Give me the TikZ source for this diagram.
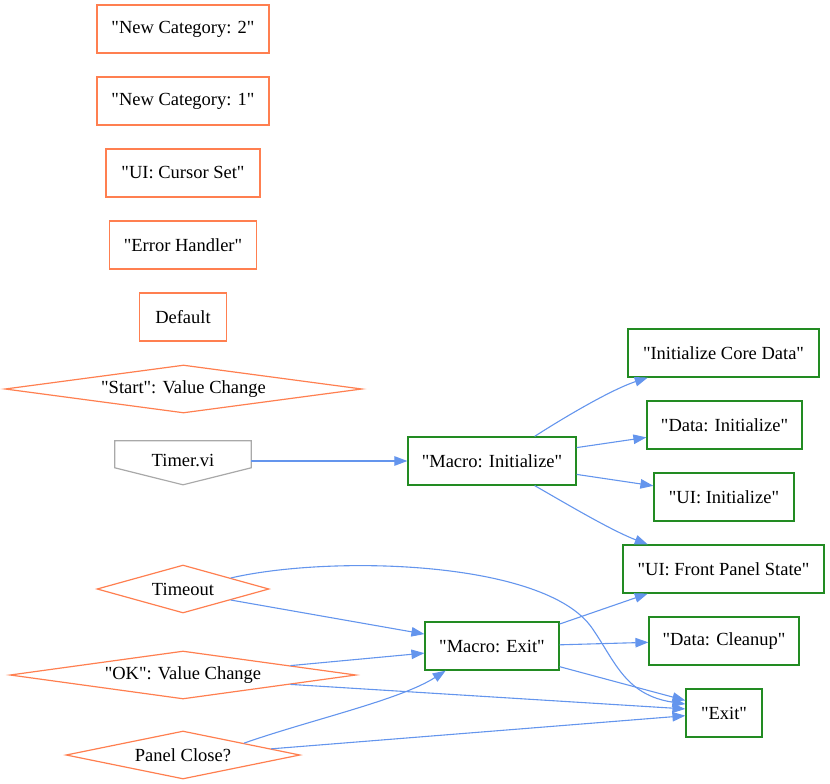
\documentclass[tikz,border=0pt]{standalone}
\usepackage{fontspec}
\newfontfamily\tnr{Liberation Serif}
\usetikzlibrary{arrows.meta,shapes.geometric,calc}
\definecolor{coral}{HTML}{FF7F50}
\definecolor{fgreen}{HTML}{228B22}
\definecolor{cblue}{HTML}{6495ED}
\definecolor{dgray}{HTML}{A9A9A9}
\begin{document}
\begin{tikzpicture}[x=1pt,y=-1pt,
  every node/.style={font=\tnr\fontsize{18.5}{22}\selectfont, inner sep=0pt},
  obox/.style={draw=coral, line width=1.2pt, rectangle, minimum height=48pt},
  gbox/.style={draw=fgreen, line width=1.2pt, rectangle, minimum height=48pt},
  odia/.style={draw=coral, line width=1.2pt, diamond, minimum height=48pt},
  edge/.style={draw=cblue, line width=1.1pt, -{Triangle[length=13pt,width=9.5pt]}}]
\useasboundingbox (0,0) rectangle (830,784);
% left column
\node[obox, minimum width=172pt] (nc2) at (183,29) {"New Category: 2"};
\node[obox, minimum width=172pt] (nc1) at (183,101) {"New Category: 1"};
\node[obox, minimum width=154pt] (cur) at (183,173) {"UI: Cursor Set"};
\node[obox, minimum width=147pt] (err) at (183,245) {"Error Handler"};
\node[obox, minimum width=87pt] (def) at (183,317) {Default};
\node[odia, minimum width=357pt, aspect=7.44] (start) at (183.5,389) {"Start": Value Change};
\node[minimum width=136pt, minimum height=40pt] (timer) at (183,461) {Timer.vi};
\draw[dgray, line width=1.2pt] (timer.north west) -- (timer.north east) -- ($(timer.north east)+(0,27)$) -- ($(timer.north)+(0,44)$) -- ($(timer.north west)+(0,27)$) -- cycle;
\node[odia, minimum width=172pt, aspect=3.58] (tmo) at (183,589) {Timeout};
\node[odia, minimum width=346pt, aspect=7.2] (ok) at (183,675) {"OK": Value Change};
\node[odia, minimum width=234pt, aspect=4.9] (pc) at (183,755) {Panel Close?};
% middle column
\node[gbox, minimum width=168pt] (minit) at (492,461) {"Macro: Initialize"};
\node[gbox, minimum width=134pt] (mexit) at (492,646) {"Macro: Exit"};
% right column
\node[gbox, minimum width=191pt] (icd) at (723.5,353) {"Initialize Core Data"};
\node[gbox, minimum width=155pt] (dinit) at (724.5,425) {"Data: Initialize"};
\node[gbox, minimum width=140pt] (uiinit) at (724,497) {"UI: Initialize"};
\node[gbox, minimum width=201pt] (fps) at (723.5,569) {"UI: Front Panel State"};
\node[gbox, minimum width=150pt] (dcl) at (724,641) {"Data: Cleanup"};
\node[gbox, minimum width=76pt] (exit) at (724,713) {"Exit"};
% edges
\draw[edge] (timer.east) -- (minit.west);
\draw[edge] (minit.30) .. controls (560,420) and (610,390) .. (icd.198);
\draw[edge] (minit.9.5) -- (dinit.189);
\draw[edge] (minit.351) -- (uiinit.171);
\draw[edge] (minit.330) .. controls (560,500) and (610,530) .. (fps.162);
\draw[edge] (tmo.13.5) .. controls (330,555) and (545,560) .. (592,628) .. controls (615,661) and (625,695) .. (exit.167);
\draw[edge] (tmo.347.6) -- (mexit.170.7);
\draw[edge] (ok.5.5) -- (mexit.186.8);
\draw[edge] (ok.355.6) -- (exit.174);
\draw[edge] (pc.11) .. controls (310,720) and (400,700) .. (mexit.208);
\draw[edge] (pc.4) -- (exit.184.5);
\draw[edge] (mexit.18) -- (fps.198.4);
\draw[edge] (mexit.1) -- (dcl.181.5);
\draw[edge] (mexit.343.4) -- (exit.162.5);
\end{tikzpicture}
\end{document}
